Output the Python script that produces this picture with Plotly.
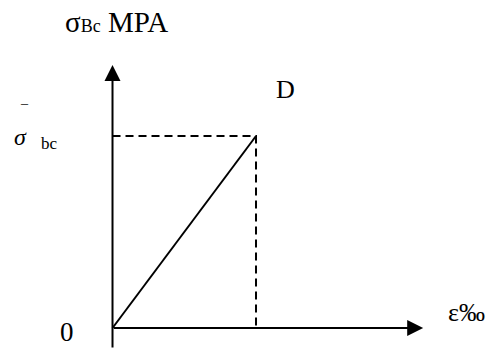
import plotly.graph_objects as go

# stress-strain idealisation, point D = (eps_bc, sigma_bc)
strain = [0.0, 2.0]          # ‰
stress = [0.0, 14.2]         # MPa
eps_axis_end = 4.33          # x arrow tip
sig_axis_top = 19.45         # y arrow tip
sig_axis_bottom = -1.55

W, H = 491, 349
SERIF = "Liberation Serif, Times New Roman, serif"

fig = go.Figure()

# linear branch O -> D
fig.add_trace(go.Scatter(
    x=strain, y=stress, mode="lines",
    line=dict(color="black", width=2), hoverinfo="skip",
))
# dashed projections of D
fig.add_trace(go.Scatter(
    x=[strain[0], strain[1], strain[1]],
    y=[stress[1], stress[1], stress[0]],
    mode="lines",
    line=dict(color="black", width=2, dash="8px,5px"), hoverinfo="skip",
))

# axes as arrows
fig.add_annotation(
    x=eps_axis_end, y=0, ax=0, ay=0, xref="x", yref="y", axref="x", ayref="y",
    showarrow=True, arrowhead=2, arrowwidth=2, arrowsize=1.6, arrowcolor="black", text="",
)
fig.add_annotation(
    x=0, y=sig_axis_top, ax=0, ay=sig_axis_bottom, xref="x", yref="y", axref="x", ayref="y",
    showarrow=True, arrowhead=2, arrowwidth=2, arrowsize=1.6, arrowcolor="black", text="",
)


def label(text, px, py, size, **kw):
    fig.add_annotation(
        x=px / W, y=1 - py / H, xref="paper", yref="paper", text=text, showarrow=False,
        font=dict(family=SERIF, size=size, color="black"), xanchor="center", yanchor="middle", **kw,
    )


label("σ<span style='font-size:18px'>Bc</span> MPA", 116, 22, 29)
label("D", 285, 90, 26)
label("¯", 24, 110, 14)
label("<i>σ</i>", 20, 137, 24)
label("bc", 49, 143, 17)
label("0", 67, 332, 27)
label("ε‰", 466, 312, 26)

# pixel-matched ranges: origin at (112.5, 328), D at (256, 136)
fig.update_xaxes(range=[-1.568, 5.275], visible=False)
fig.update_yaxes(range=[-1.553, 24.26], visible=False)
fig.update_layout(
    width=W, height=H, margin=dict(l=0, r=0, t=0, b=0),
    plot_bgcolor="white", paper_bgcolor="white", showlegend=False,
)

fig.write_html(
    "out.html",
    config={"displayModeBar": False},
    post_script="document.body.style.margin='0';",
)
